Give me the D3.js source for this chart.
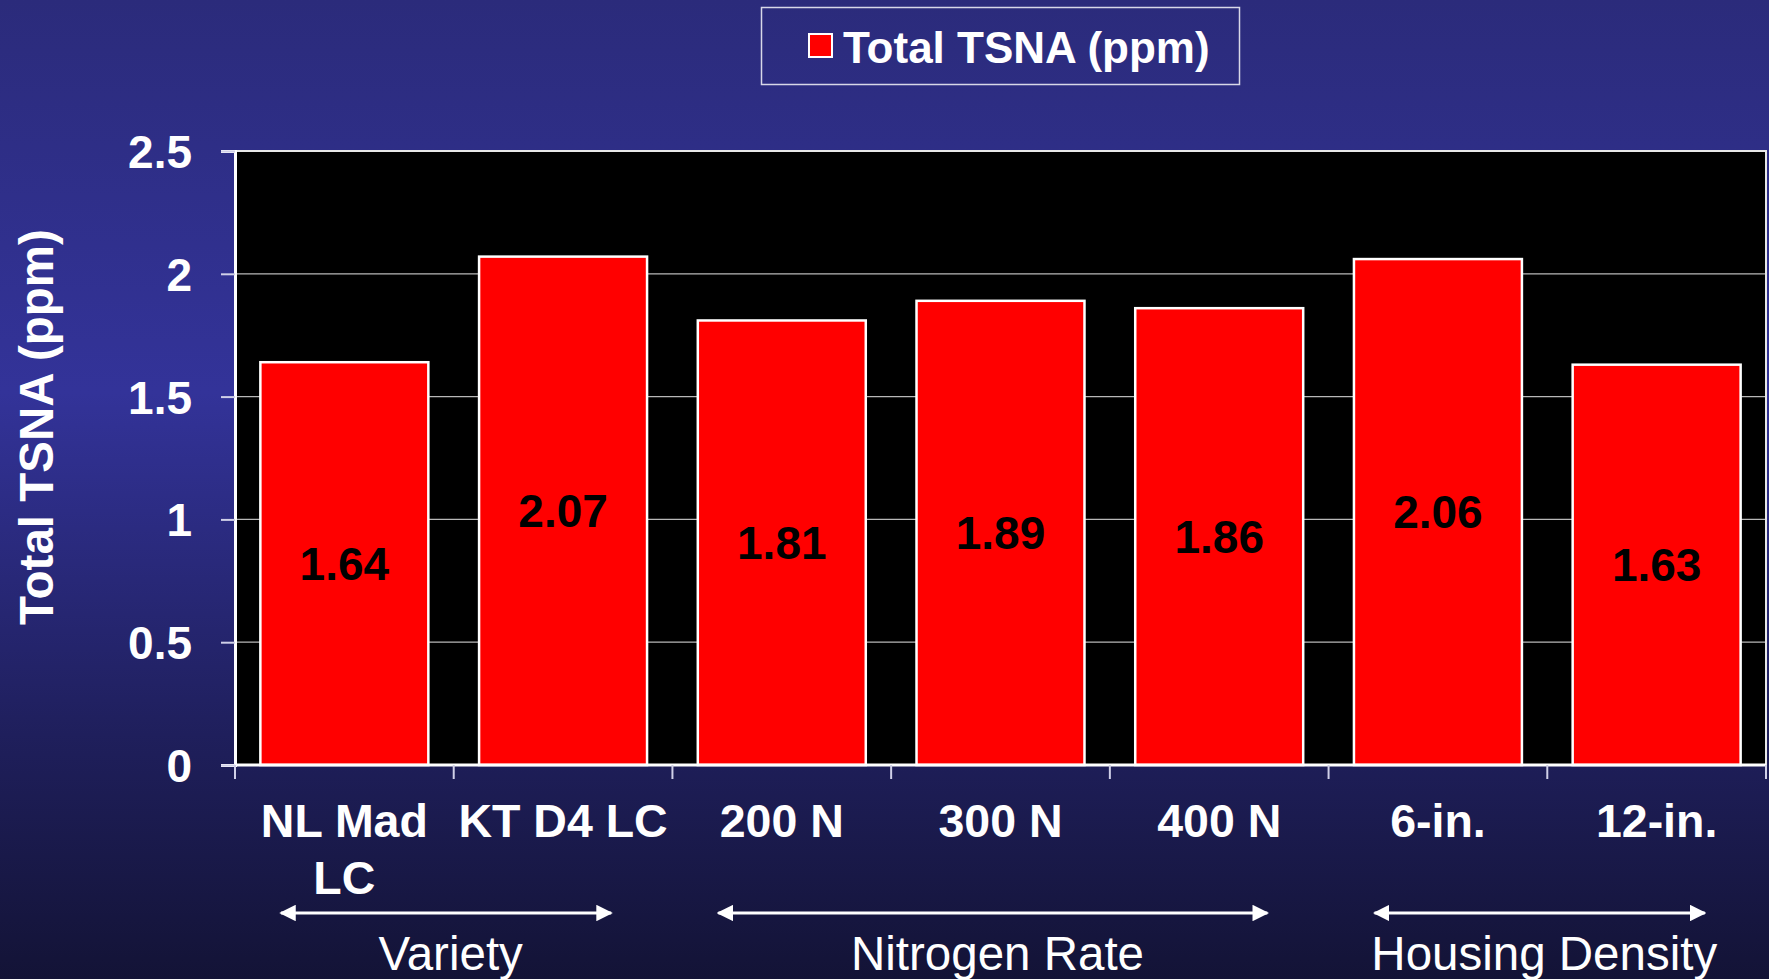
<!DOCTYPE html>
<html>
<head>
<meta charset="utf-8">
<script src="https://cdn.jsdelivr.net/npm/d3@7"></script>
<style>
  html, body { margin: 0; padding: 0; background: #1a1a4a; }
  svg { display: block; font-family: "Liberation Sans", Arial, sans-serif; }
</style>
</head>
<body>
<svg id="chart" width="1769" height="979"></svg>
<script>
// data
const categories = [["NL Mad", "LC"], ["KT D4 LC"], ["200 N"], ["300 N"], ["400 N"], ["6-in."], ["12-in."]]
const values = [1.64, 2.07, 1.81, 1.89, 1.86, 2.06, 1.63]
const yTicks = [0, 0.5, 1, 1.5, 2, 2.5]
const groupNames = ["Variety", "Nitrogen Rate", "Housing Density"]
const groupFirst = [0, 2, 5]
const groupLast = [1, 4, 6]
const seriesName = "Total TSNA (ppm)"

const W = 1769, H = 979
const plot = { left: 235, right: 1766, top: 151, bottom: 765 }
const svg = d3.select('#chart')

// background gradient
const defs = svg.append('defs')
const grad = defs.append('linearGradient')
  .attr('id', 'bg').attr('x1', 0).attr('y1', 0).attr('x2', 0).attr('y2', 1)
grad.append('stop').attr('offset', '0%').attr('stop-color', '#2b2b7b')
grad.append('stop').attr('offset', '40%').attr('stop-color', '#333399')
grad.append('stop').attr('offset', '75%').attr('stop-color', '#1f1f5c')
grad.append('stop').attr('offset', '100%').attr('stop-color', '#131336')
svg.append('rect').attr('width', W).attr('height', H).attr('fill', 'url(#bg)')

const idx = d3.range(values.length)
const x = d3.scaleBand()
  .domain(idx)
  .range([plot.left, plot.right])
  .paddingInner(0.232)
  .paddingOuter(0.116)
const y = d3.scaleLinear()
  .domain([0, 2.5])
  .range([plot.bottom, plot.top])

// plot area
svg.append('rect')
  .attr('x', plot.left).attr('y', plot.top)
  .attr('width', plot.right - plot.left).attr('height', plot.bottom - plot.top)
  .attr('fill', 'black')

// gridlines
svg.append('g')
  .selectAll('line')
  .data(yTicks.filter(d => d > 0 && d < 2.5))
  .join('line')
  .attr('x1', plot.left).attr('x2', plot.right)
  .attr('y1', d => y(d)).attr('y2', d => y(d))
  .attr('stroke', '#b8b8b8').attr('stroke-width', 1.2)

// border top / right
svg.append('path')
  .attr('d', `M${plot.left},${plot.top}H${plot.right}V${plot.bottom}`)
  .attr('fill', 'none').attr('stroke', '#e8e8e8').attr('stroke-width', 2)

// bars
svg.append('g')
  .selectAll('rect')
  .data(idx)
  .join('rect')
  .attr('x', i => x(i))
  .attr('y', i => y(values[i]))
  .attr('width', x.bandwidth())
  .attr('height', i => y(0) - y(values[i]))
  .attr('fill', '#ff0000')
  .attr('stroke', 'white')
  .attr('stroke-width', 2.5)

// value labels
svg.append('g')
  .selectAll('text')
  .data(idx)
  .join('text')
  .attr('x', i => x(i) + x.bandwidth() / 2)
  .attr('y', i => (y(values[i]) + y(0)) / 2)
  .attr('text-anchor', 'middle')
  .attr('dominant-baseline', 'central')
  .attr('font-size', 46).attr('font-weight', 'bold')
  .attr('fill', 'black')
  .text(i => d3.format('.2f')(values[i]))

// y axis
const yAxis = svg.append('g')
  .attr('transform', `translate(${plot.left},0)`)
  .call(d3.axisLeft(y).tickValues(yTicks).tickSize(14).tickPadding(29).tickFormat(d => String(d)))
yAxis.select('.domain').attr('stroke', 'white').attr('stroke-width', 3)
yAxis.selectAll('.tick line').attr('stroke', '#d0d0e8').attr('stroke-width', 2)
yAxis.selectAll('.tick text')
  .attr('fill', 'white').attr('font-size', 46).attr('font-weight', 'bold')
  .attr('font-family', '"Liberation Sans", Arial, sans-serif')
  .attr('dy', '0.36em')

// x axis: ticks at band boundaries
const step = x.step()
const bounds = d3.range(values.length + 1).map(i => plot.left + i * step)
svg.append('line')
  .attr('x1', plot.left).attr('x2', plot.right)
  .attr('y1', plot.bottom).attr('y2', plot.bottom)
  .attr('stroke', 'white').attr('stroke-width', 3)
svg.append('g')
  .selectAll('line')
  .data(bounds)
  .join('line')
  .attr('x1', d => d).attr('x2', d => d)
  .attr('y1', plot.bottom).attr('y2', plot.bottom + 14)
  .attr('stroke', '#d0d0e8').attr('stroke-width', 2)

// category labels
svg.append('g')
  .selectAll('text')
  .data(idx)
  .join('text')
  .attr('x', i => x(i) + x.bandwidth() / 2)
  .attr('y', 821)
  .attr('text-anchor', 'middle')
  .attr('font-size', 46.5).attr('font-weight', 'bold')
  .attr('fill', 'white')
  .each(function (i) {
    const t = d3.select(this)
    categories[i].forEach((line, k) => {
      t.append('tspan')
        .attr('x', x(i) + x.bandwidth() / 2)
        .attr('y', 821 + k * 57)
        .attr('dominant-baseline', 'central')
        .text(line)
    })
  })

// y axis title
svg.append('text')
  .attr('transform', `translate(36,427) rotate(-90)`)
  .attr('text-anchor', 'middle')
  .attr('dominant-baseline', 'central')
  .attr('font-size', 47.5).attr('font-weight', 'bold')
  .attr('fill', 'white')
  .text(seriesName)

// legend
const lg = svg.append('g')
lg.append('rect')
  .attr('x', 761.5).attr('y', 7.5).attr('width', 478).attr('height', 77)
  .attr('fill', 'none').attr('stroke', '#d8d8e8').attr('stroke-width', 1.5)
lg.append('rect')
  .attr('x', 809).attr('y', 34).attr('width', 23).attr('height', 23)
  .attr('fill', '#ff0000').attr('stroke', 'white').attr('stroke-width', 2)
lg.append('text')
  .attr('x', 843).attr('y', 47)
  .attr('dominant-baseline', 'central')
  .attr('font-size', 44).attr('font-weight', 'bold')
  .attr('fill', 'white')
  .text(seriesName)

// group arrows + labels
defs.append('marker')
  .attr('id', 'head').attr('viewBox', '0 0 10 10')
  .attr('refX', 9).attr('refY', 5)
  .attr('markerWidth', 5.5).attr('markerHeight', 5.5)
  .attr('markerUnits', 'strokeWidth')
  .attr('orient', 'auto-start-reverse')
  .append('path').attr('d', 'M0,0L10,5L0,10Z').attr('fill', 'white')

const arrowY = 913
const groups = svg.append('g')
groupNames.forEach((name, g) => {
  const x0 = x(groupFirst[g]) + x.bandwidth() / 2 - 0.29 * step
  const x1 = x(groupLast[g]) + x.bandwidth() / 2 + 0.22 * step
  const bandMid = (x(groupFirst[g]) - x.paddingInner() * step / 2 + x(groupLast[g]) + x.bandwidth() + x.paddingInner() * step / 2) / 2
  groups.append('line')
    .attr('x1', x0).attr('x2', x1)
    .attr('y1', arrowY).attr('y2', arrowY)
    .attr('stroke', 'white').attr('stroke-width', 3)
    .attr('marker-start', 'url(#head)')
    .attr('marker-end', 'url(#head)')
  groups.append('text')
    .attr('x', bandMid - 3)
    .attr('y', 953)
    .attr('text-anchor', 'middle')
    .attr('dominant-baseline', 'central')
    .attr('font-size', 47.5)
    .attr('fill', 'white')
    .text(name)
})
</script>
</body>
</html>
